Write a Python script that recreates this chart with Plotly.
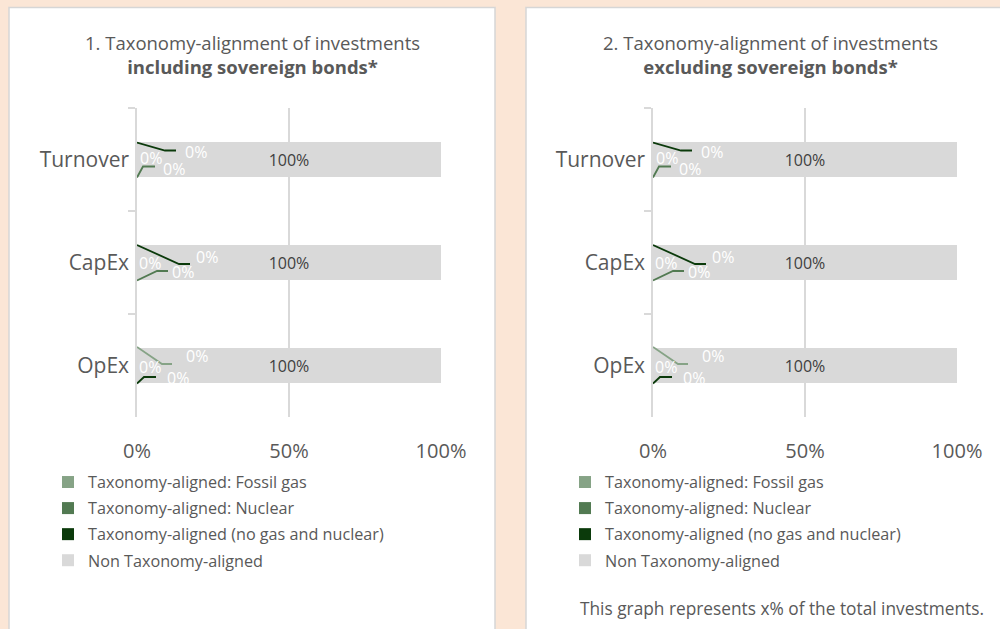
import plotly.graph_objects as go

# ---- data ----
categories = ["Turnover", "CapEx", "OpEx"]
series_names = [
    "Taxonomy-aligned: Fossil gas",
    "Taxonomy-aligned: Nuclear",
    "Taxonomy-aligned (no gas and nuclear)",
    "Non Taxonomy-aligned",
]
series_colors = ["#86A386", "#527A52", "#0B3A0B", "#D9D9D9"]

incl_fossil = [0, 0, 0]
incl_nuclear = [0, 0, 0]
incl_aligned = [0, 0, 0]
incl_non = [100, 100, 100]

excl_fossil = [0, 0, 0]
excl_nuclear = [0, 0, 0]
excl_aligned = [0, 0, 0]
excl_non = [100, 100, 100]

x_ticks = [0, 50, 100]
x_tick_labels = ["0%", "50%", "100%"]
panel_titles = [
    "1. Taxonomy-alignment of investments<br><b>including sovereign bonds*</b>",
    "2. Taxonomy-alignment of investments<br><b>excluding sovereign bonds*</b>",
]
footer_text = "This graph represents x% of the total investments."

# ---- style ----
W, H = 1000, 629
FONT = "Open Sans"
TXT = "#595959"
GRID = "#D9D9D9"
BEIGE = "#FBE6D6"

# label placement style for zero-value labels (screen px offsets, y down)
label_roles = {
    0: {0: "inside", 1: "lower", 2: "upper"},
    1: {0: "inside", 1: "lower", 2: "upper"},
    2: {0: "upper", 1: "inside", 2: "lower"},
}
role_style = {
    0: {"inside": (14, -2, None),
        "upper": (59, -7.5, [(0, -17), (28, -9), (39, -9)]),
        "lower": (37, 9, [(0, 18), (6, 7), (18, 7)])},
    1: {"inside": (13, 0.5, None),
        "upper": (70, -5.5, [(0, -17.5), (42, 1.5), (53, 1.5)]),
        "lower": (46, 9.5, [(0, 18), (20, 8.5), (31, 8.5)])},
    2: {"inside": (13, 1, None),
        "upper": (60, -10, [(0, -18.5), (25, -1.5), (35, -1.5)]),
        "lower": (41, 12, [(0, 18), (7, 11.5), (19, 11.5)])},
}

def px(x):
    return x / W

def py(y):
    return 1 - y / H

fig = go.Figure()

panels = [
    dict(vals=[incl_fossil, incl_nuclear, incl_aligned, incl_non], xa="x", ya="y",
         legend="legend", xdom=[px(137), px(441)], cx=252),
    dict(vals=[excl_fossil, excl_nuclear, excl_aligned, excl_non], xa="x2", ya="y2",
         legend="legend2", xdom=[px(653), px(957)], cx=770),
]

shapes = []
annotations = []

# panel backgrounds
shapes.append(dict(type="rect", xref="paper", yref="paper", x0=px(9), x1=px(495),
                   y0=py(640), y1=py(7.5), fillcolor="white",
                   line=dict(color="#D6D6D6", width=1.5), layer="below"))
shapes.append(dict(type="rect", xref="paper", yref="paper", x0=px(526), x1=px(1010),
                   y0=py(640), y1=py(7.5), fillcolor="white",
                   line=dict(color="#D6D6D6", width=1.5), layer="below"))

for pi, p in enumerate(panels):
    cum = [0.0] * len(categories)
    for si, name in enumerate(series_names):
        vals = p["vals"][si]
        is_non = si == len(series_names) - 1
        fig.add_trace(go.Bar(
            y=categories, x=vals, orientation="h", name=name,
            marker=dict(color=series_colors[si], line=dict(width=0)),
            width=0.34, xaxis=p["xa"], yaxis=p["ya"], legend=p["legend"],
            legendgroup=f"p{pi}s{si}",
            text=[f"{v:.0f}%" for v in vals] if is_non else None,
            textposition="inside" if is_non else None,
            insidetextanchor="middle",
            textfont=dict(family=FONT, size=16, color="#404040"),
            hoverinfo="skip",
        ))
        if not is_non:
            for ci, v in enumerate(vals):
                role = label_roles[ci][si]
                dx, dy, path = role_style[ci][role]
                anchor_x = cum[ci] + v / 2
                annotations.append(dict(
                    x=anchor_x, y=ci, xref=p["xa"], yref=p["ya"],
                    text=f"{v:.0f}%", showarrow=False,
                    xanchor="center", yanchor="middle",
                    xshift=dx, yshift=-dy,
                    font=dict(family=FONT, size=16, color="#FFFFFF"),
                ))
                if path:
                    d = "M" + " L".join(f"{a},{-b}" for a, b in path)
                    shapes.append(dict(
                        type="path", xref=p["xa"], yref=p["ya"],
                        xsizemode="pixel", ysizemode="pixel",
                        xanchor=cum[ci], yanchor=ci, path=d,
                        line=dict(color=series_colors[si], width=1.8),
                    ))
        for ci, v in enumerate(vals):
            cum[ci] += v

    annotations.append(dict(
        x=px(p["cx"]), y=py(55), xref="paper", yref="paper",
        xanchor="center", yanchor="middle",
        text=panel_titles[pi], showarrow=False, align="center",
        font=dict(family=FONT, size=18.5, color=TXT),
    ))

annotations.append(dict(
    x=px(781.5), y=py(608), xref="paper", yref="paper", text=footer_text,
    xanchor="center", yanchor="middle",
    showarrow=False, font=dict(family=FONT, size=17.3, color=TXT),
))

xaxis_common = dict(range=[0, 100], tickmode="array", tickvals=x_ticks,
                    ticktext=x_tick_labels,
                    showgrid=True, gridcolor=GRID, gridwidth=1.5,
                    zeroline=False, showline=False, ticks="",
                    tickfont=dict(family=FONT, size=20, color=TXT),
                    ticklabelstandoff=20, fixedrange=True)
yaxis_common = dict(type="category", categoryorder="array", categoryarray=categories,
                    range=[2.5, -0.5], showgrid=False, zeroline=False,
                    showline=True, linecolor=GRID, linewidth=1.5,
                    ticks="outside", ticklen=7, tickcolor=GRID, tickwidth=1.5,
                    tickson="boundaries",
                    tickfont=dict(family=FONT, size=21, color=TXT),
                    ticklabelstandoff=2,
                    domain=[py(417), py(108)], fixedrange=True)

legend_common = dict(
    xanchor="left", yanchor="top", bgcolor="rgba(0,0,0,0)",
    font=dict(family=FONT, size=16.2, color=TXT), traceorder="grouped",
    tracegroupgap=2, itemwidth=30, itemclick=False, itemdoubleclick=False,
)

fig.update_layout(
    width=W, height=H, margin=dict(l=0, r=0, t=0, b=0, autoexpand=False),
    paper_bgcolor=BEIGE, plot_bgcolor="rgba(0,0,0,0)",
    barmode="stack", bargap=0.66,
    xaxis=dict(domain=panels[0]["xdom"], anchor="y", **xaxis_common),
    yaxis=dict(anchor="x", **yaxis_common),
    xaxis2=dict(domain=panels[1]["xdom"], anchor="y2", **xaxis_common),
    yaxis2=dict(anchor="x2", **yaxis_common),
    legend=dict(x=px(48), y=py(465), **legend_common),
    legend2=dict(x=px(565), y=py(465), **legend_common),
    shapes=shapes, annotations=annotations,
    font=dict(family=FONT, color=TXT),
    showlegend=True,
)

fig.write_html(
    "out.html",
    config={"displayModeBar": False},
    post_script="document.body.style.margin='0';document.body.style.padding='0';"
                "document.documentElement.style.overflow='hidden';",
)
